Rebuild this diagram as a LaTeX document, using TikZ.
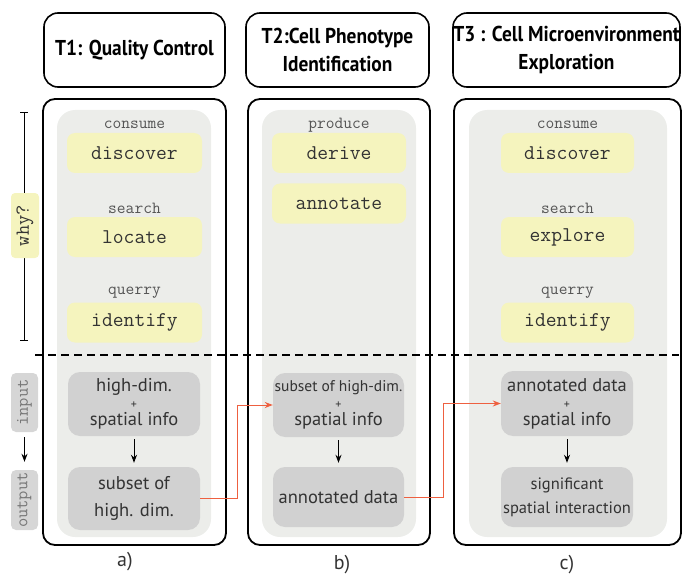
\documentclass[tikz,border=0pt]{standalone}
\usepackage{fontspec}
\setmainfont{PT Sans}
\newfontfamily\titlefont{PT Sans}[FakeStretch=0.9]
\usetikzlibrary{arrows.meta}
\definecolor{panelgray}{HTML}{ECEDEA}
\definecolor{ylw}{HTML}{F5F4BE}
\definecolor{boxgray}{HTML}{D1D1D1}
\definecolor{txt}{HTML}{333333}
\definecolor{capgray}{HTML}{555555}
\definecolor{iogray}{HTML}{D6D6D6}
\definecolor{iotext}{HTML}{777777}
\definecolor{orng}{HTML}{EE6040}
\begin{document}
\begin{tikzpicture}[x=1pt,y=-1pt,
  titlebox/.style={draw,line width=1.6pt,rounded corners=14pt,align=center,inner sep=0pt,
    minimum height=74pt,font=\titlefont\bfseries\fontsize{21.5}{28}\selectfont},
  panel/.style={draw,line width=1.8pt,rounded corners=12pt,inner sep=0pt,minimum height=446pt},
  shade/.style={fill=panelgray,rounded corners=18pt,inner sep=0pt,minimum height=427pt,minimum width=154pt},
  ybox/.style={fill=ylw,rounded corners=8pt,inner sep=0pt,minimum width=134pt,minimum height=40pt,
    text=txt,font=\ttfamily\fontsize{21}{21}\selectfont},
  tasklabel/.style={anchor=base,inner sep=0pt,text=capgray,font=\ttfamily\fontsize{17}{17}\selectfont},
  dbox/.style={fill=boxgray,rounded corners=12pt,inner sep=0pt,minimum width=132pt,align=center,
    text=txt,font=\fontsize{18.5}{17}\selectfont},
  iobox/.style={fill=iogray,rounded corners=5pt,inner sep=0pt,minimum height=27pt,rotate=90,
    text=iotext,font=\ttfamily\fontsize{18}{18}\selectfont},
  flow/.style={-{Stealth[length=8pt,width=6pt]},line width=0.9pt,shorten <=3pt,shorten >=4pt},
  oconn/.style={orng,line width=1pt,-{Stealth[length=8pt,width=6pt]}},
  sublabel/.style={font=\fontsize{20}{20}\selectfont,text=txt}
]
\useasboundingbox (0,0) rectangle (683,575);

% titles
\node[titlebox,minimum width=181pt] (t1) at (134.5,50) {T1: Quality Control};
\node[titlebox,minimum width=183pt] (t2) at (337.5,50) {T2:Cell Phenotype\\Identification};
\node[titlebox,minimum width=227pt] (t3) at (566.5,50) {T3 : Cell Microenvironment\\Exploration};

% shaded inner panels
\node[shade] (sa) at (134,323.5) {};
\node[shade] (sb) at (339,323.5) {};
\node[shade,minimum width=198pt] (sc) at (568,323.5) {};

% outer panels
\node[panel,minimum width=183pt] (pa) at (134.5,322) {};
\node[panel,minimum width=182pt] (pb) at (339,322) {};
\node[panel,minimum width=227pt] (pc) at (567.5,322) {};

% panel a tasks
\node[tasklabel] (ca1) at (134.5,129) {consume};
\node[ybox,minimum width=135pt] (ya1) at (134.5,153) {discover};
\node[tasklabel] (ca2) at (134.5,214) {search};
\node[ybox,minimum width=135pt] (ya2) at (134.5,237) {locate};
\node[tasklabel] (ca3) at (134.5,294) {querry};
\node[ybox,minimum width=135pt] (ya3) at (134.5,322.5) {identify};

% panel b tasks
\node[tasklabel] (cb1) at (339,129) {produce};
\node[ybox] (yb1) at (339,153) {derive};
\node[ybox] (yb2) at (339,203.5) {annotate};

% panel c tasks
\node[tasklabel] (cc1) at (567.5,129) {consume};
\node[ybox,minimum width=133pt] (yc1) at (567.5,153) {discover};
\node[tasklabel] (cc2) at (567.5,214) {search};
\node[ybox,minimum width=133pt] (yc2) at (567.5,237) {explore};
\node[tasklabel] (cc3) at (567.5,294) {querry};
\node[ybox,minimum width=133pt] (yc3) at (567.5,322.5) {identify};

% dashed separator
\coordinate (dl) at (35,355);
\coordinate (dr) at (679,355);
\draw[line width=1.8pt,dash pattern=on 8pt off 5pt] (dl) -- (dr);

% data boxes
\node[dbox,minimum height=64pt] (a1) at (134,404) {high-dim.\\{\fontsize{12}{12}\selectfont +}\\spatial info};
\node[dbox,minimum height=63pt,font=\fontsize{18.5}{27}\selectfont] (a2) at (134,498.5) {subset of\\high. dim.};
\node[dbox,minimum width=131pt,minimum height=64pt] (b1) at (338.5,405) {{\fontsize{15.5}{15}\selectfont subset of high-dim.}\\{\fontsize{12}{12}\selectfont +}\\spatial info};
\node[dbox,minimum width=131pt,minimum height=60pt] (b2) at (338.5,497) {annotated data};
\node[dbox,minimum height=65pt] (c1) at (567,403.5) {annotated data\\{\fontsize{12}{12}\selectfont +}\\spatial info};
\node[dbox,minimum height=60pt,font=\fontsize{16.5}{24}\selectfont] (c2) at (567,497) {significant\\spatial interaction};

\draw[flow] (a1) -- (a2);
\draw[flow] (b1) -- (b2);
\draw[flow] (c1) -- (c2);

% orange connectors
\draw[oconn] (a2.east) -- ++(37,0) |- (b1.west);
\draw[oconn] (b2.east) -- ++(39,0) |- (c1.west);

% why bracket
\coordinate (wtop) at (24,112);
\coordinate (wbot) at (24,341);
\draw[line width=0.8pt,{Bar[width=8pt]}-{Bar[width=8pt]}] (wtop) -- (wbot);
\node[fill=ylw,rounded corners=4pt,inner sep=0pt,minimum width=65pt,minimum height=28pt,rotate=90,
  text=txt,font=\ttfamily\fontsize{20}{20}\selectfont] (why) at (25,225.5) {why?};

% input / output
\node[iobox,minimum width=59pt] (in) at (24.5,402.5) {input};
\node[iobox,minimum width=60pt] (out) at (24.5,500) {output};
\draw[-{Stealth[length=8pt,width=6pt]},line width=0.9pt,shorten <=5pt,shorten >=8pt] (in) -- (out);

% sub labels
\node[sublabel] (la) at (125,562) {a)};
\node[sublabel] (lb) at (342,565) {b)};
\node[sublabel] (lc) at (567,565) {c)};
\end{tikzpicture}
\end{document}
